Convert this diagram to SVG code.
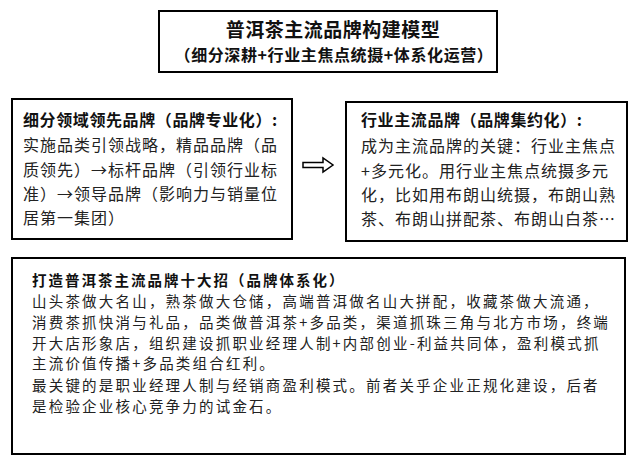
<svg xmlns="http://www.w3.org/2000/svg" width="640" height="465" viewBox="0 0 640 465">
<style>
.box{fill:#fff;stroke:#000;stroke-width:2}
text{font-family:"Noto Sans CJK SC","Noto Sans CJK JP",sans-serif;fill:#111}
.t{font-size:19px;font-weight:bold;text-anchor:middle;letter-spacing:0.5px}
.st{font-size:16px;font-weight:bold;text-anchor:middle;letter-spacing:0.6px}
.h{font-size:16px;font-weight:bold;letter-spacing:0.6px}
.h4{font-size:14.5px;font-weight:bold;letter-spacing:2px}
.b{font-size:16px;letter-spacing:1px;fill:#222}
.b4{font-size:14.5px;letter-spacing:2.2px;fill:#222}
</style>
<rect width="640" height="465" fill="#fff"/>
<g id="title">
<rect class="box" x="159" y="11" width="338" height="61"/>
<text class="t" x="333" y="37">普洱茶主流品牌构建模型</text>
<text class="st" x="334" y="61">（细分深耕+行业主焦点统摄+体系化运营）</text>
</g>
<g id="segment">
<rect class="box" x="12" y="99" width="280" height="140"/>
<text class="h" x="23" y="126">细分领域领先品牌（品牌专业化）:</text>
<text class="b" x="23" y="151">实施品类引领战略，精品品牌（品</text>
<text class="b" x="23" y="176">质领先）→标杆品牌（引领行业标</text>
<text class="b" x="23" y="200">准）→领导品牌（影响力与销量位</text>
<text class="b" x="23" y="224">居第一集团）</text>
</g>
<g id="mainstream">
<rect class="box" x="346" y="102" width="281" height="139"/>
<text class="h" x="361" y="126">行业主流品牌（品牌集约化）:</text>
<text class="b" x="361" y="152">成为主流品牌的关键：行业主焦点</text>
<text class="b" x="361" y="177">+多元化。用行业主焦点统摄多元</text>
<text class="b" x="361" y="201">化，比如用布朗山统摄，布朗山熟</text>
<text class="b" x="361" y="225">茶、布朗山拼配茶、布朗山白茶…</text>
</g>
<g id="connectors">
<path d="M303,162.5 H323 V158 L333,165 L323,172 V167.5 H303 Z" fill="#fff" stroke="#000" stroke-width="1.5" stroke-linejoin="miter"/>
</g>
<g id="system">
<rect class="box" x="12" y="258" width="613" height="196"/>
<text class="h4" x="32" y="286">打造普洱茶主流品牌十大招（品牌体系化）</text>
<text class="b4" x="32" y="307">山头茶做大名山，熟茶做大仓储，高端普洱做名山大拼配，收藏茶做大流通，</text>
<text class="b4" x="32" y="328">消费茶抓快消与礼品，品类做普洱茶+多品类，渠道抓珠三角与北方市场，终端</text>
<text class="b4" x="32" y="349">开大店形象店，组织建设抓职业经理人制+内部创业-利益共同体，盈利模式抓</text>
<text class="b4" x="32" y="369">主流价值传播+多品类组合红利。</text>
<text class="b4" x="32" y="391">最关键的是职业经理人制与经销商盈利模式。前者关乎企业正规化建设，后者</text>
<text class="b4" x="32" y="412">是检验企业核心竞争力的试金石。</text>
</g>
</svg>
